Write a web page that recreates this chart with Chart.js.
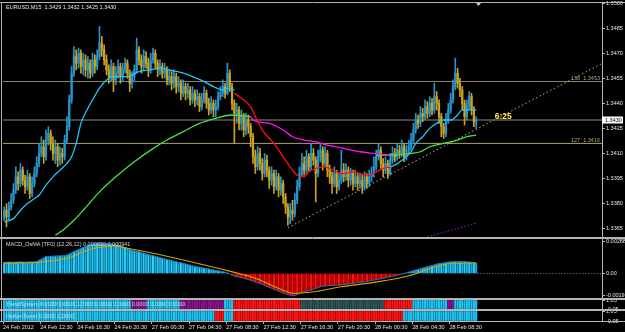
<!DOCTYPE html>
<html>
<head>
<meta charset="utf-8">
<script src="https://cdn.jsdelivr.net/npm/chart.js@4.4.1/dist/chart.umd.min.js"></script>
<style>
  html, body { margin: 0; padding: 0; background: #000; }
  #wrap { position: relative; width: 625px; height: 332px; overflow: hidden; background: #000; }
  canvas { position: absolute; left: 0; }
</style>
</head>
<body>
<div id="wrap">
  <canvas id="main" width="625" height="238" style="top:0"></canvas>
  <canvas id="macd" width="625" height="61" style="top:238px"></canvas>
  <canvas id="trend" width="625" height="11" style="top:299px"></canvas>
  <canvas id="heiken" width="625" height="22" style="top:310px"></canvas>
</div>
<script>
// EURUSD M15, bar 0 = 24 Feb 2012 08:30
const timeLabels = ["24 Feb 2012", "24 Feb 12:30", "24 Feb 16:30", "24 Feb 20:30", "27 Feb 00:30", "27 Feb 04:30",
  "27 Feb 08:30", "27 Feb 12:30", "27 Feb 16:30", "27 Feb 20:30", "28 Feb 00:30", "28 Feb 04:30", "28 Feb 08:30"];
const timeLabelBars = [0, 16, 32, 48, 64, 80, 96, 112, 128, 144, 160, 176, 192];
const priceTicks = [1.3365, 1.3380, 1.3395, 1.3410, 1.3425, 1.3440, 1.3455, 1.3470, 1.3485, 1.3500];

const firstOpen = 1.3372;
const closes = [
  1.3376,1.3372,1.3378,1.3382,1.3388,1.3396,1.3392,1.3400,1.3394,1.3390,
  1.3396,1.3386,1.3392,1.3398,1.3404,1.3410,1.3414,1.3408,1.3418,1.3422,
  1.3416,1.3410,1.3414,1.3406,1.3410,1.3408,1.3418,1.3426,1.3442,1.3458,
  1.3468,1.3464,1.3470,1.3462,1.3466,1.3460,1.3464,1.3458,1.3466,1.3462,
  1.3468,1.3476,1.3472,1.3466,1.3460,1.3456,1.3462,1.3454,1.3458,1.3462,
  1.3456,1.3460,1.3464,1.3458,1.3452,1.3456,1.3460,1.3472,1.3466,1.3462,
  1.3468,1.3464,1.3460,1.3466,1.3470,1.3464,1.3460,1.3462,1.3458,1.3460,
  1.3454,1.3456,1.3452,1.3456,1.3450,1.3452,1.3446,1.3450,1.3446,1.3448,
  1.3442,1.3446,1.3442,1.3444,1.3438,1.3442,1.3446,1.3440,1.3436,1.3440,
  1.3436,1.3438,1.3444,1.3446,1.3450,1.3446,1.3458,1.3450,1.3440,1.3434,
  1.3436,1.3428,1.3432,1.3424,1.3430,1.3426,1.3420,1.3408,1.3402,1.3410,
  1.3404,1.3398,1.3406,1.3400,1.3394,1.3398,1.3390,1.3396,1.3388,1.3392,
  1.3384,1.3378,1.3372,1.3376,1.3374,1.3382,1.3390,1.3398,1.3404,1.3400,
  1.3408,1.3402,1.3410,1.3406,1.3398,1.3408,1.3412,1.3404,1.3410,1.3400,
  1.3396,1.3392,1.3398,1.3390,1.3394,1.3400,1.3396,1.3400,1.3394,1.3398,
  1.3392,1.3396,1.3392,1.3394,1.3390,1.3396,1.3392,1.3396,1.3398,1.3402,
  1.3408,1.3412,1.3404,1.3400,1.3404,1.3398,1.3406,1.3410,1.3408,1.3412,
  1.3410,1.3414,1.3408,1.3412,1.3414,1.3418,1.3424,1.3430,1.3428,1.3434,
  1.3432,1.3438,1.3434,1.3440,1.3436,1.3444,1.3440,1.3432,1.3426,1.3422,
  1.3430,1.3436,1.3442,1.3450,1.3458,1.3452,1.3448,1.3440,1.3432,1.3438,
  1.3444,1.3436,1.3429,1.3430
];
const highs = [
  1.3378,1.3380,1.3381,1.3386,1.3392,1.3402,1.3399,1.3404,1.3402,1.3397,
  1.3400,1.3398,1.3396,1.3402,1.3408,1.3416,1.3420,1.3418,1.3424,1.3426,
  1.3424,1.3420,1.3418,1.3416,1.3414,1.3413,1.3421,1.3432,1.3445,1.3462,
  1.3474,1.3472,1.3473,1.3472,1.3470,1.3469,1.3468,1.3466,1.3470,1.3469,
  1.3472,1.3486,1.3480,1.3475,1.3469,1.3463,1.3466,1.3464,1.3462,1.3466,
  1.3464,1.3464,1.3467,1.3466,1.3460,1.3459,1.3463,1.3479,1.3474,1.3469,
  1.3472,1.3471,1.3467,1.3470,1.3473,1.3472,1.3466,1.3466,1.3464,1.3464,
  1.3462,1.3460,1.3459,1.3460,1.3458,1.3456,1.3454,1.3454,1.3452,1.3452,
  1.3450,1.3450,1.3448,1.3448,1.3446,1.3446,1.3450,1.3448,1.3443,1.3444,
  1.3442,1.3442,1.3447,1.3450,1.3454,1.3452,1.3464,1.3460,1.3452,1.3442,
  1.3440,1.3438,1.3436,1.3434,1.3434,1.3433,1.3428,1.3422,1.3412,1.3414,
  1.3413,1.3407,1.3410,1.3409,1.3402,1.3402,1.3400,1.3400,1.3398,1.3396,
  1.3394,1.3386,1.3380,1.3380,1.3382,1.3386,1.3394,1.3402,1.3410,1.3408,
  1.3412,1.3410,1.3416,1.3413,1.3408,1.3412,1.3416,1.3414,1.3414,1.3412,
  1.3403,1.3399,1.3402,1.3400,1.3398,1.3412,1.3404,1.3404,1.3402,1.3401,
  1.3400,1.3400,1.3398,1.3398,1.3397,1.3399,1.3398,1.3400,1.3402,1.3408,
  1.3412,1.3416,1.3414,1.3407,1.3408,1.3406,1.3410,1.3414,1.3413,1.3416,
  1.3415,1.3418,1.3416,1.3415,1.3418,1.3422,1.3428,1.3434,1.3433,1.3438,
  1.3437,1.3442,1.3441,1.3444,1.3443,1.3452,1.3447,1.3442,1.3434,1.3428,
  1.3434,1.3440,1.3446,1.3454,1.3467,1.3461,1.3455,1.3450,1.3442,1.3442,
  1.3447,1.3446,1.3438,1.3432
];
const lows = [
  1.3370,1.3366,1.3370,1.3376,1.3380,1.3386,1.3388,1.3390,1.3391,1.3386,
  1.3388,1.3383,1.3384,1.3390,1.3396,1.3402,1.3408,1.3404,1.3406,1.3415,
  1.3412,1.3406,1.3404,1.3402,1.3403,1.3404,1.3406,1.3416,1.3424,1.3440,
  1.3456,1.3460,1.3461,1.3458,1.3457,1.3456,1.3455,1.3455,1.3456,1.3458,
  1.3460,1.3466,1.3468,1.3463,1.3457,1.3452,1.3453,1.3447,1.3451,1.3455,
  1.3452,1.3453,1.3458,1.3455,1.3447,1.3449,1.3453,1.3458,1.3463,1.3458,
  1.3460,1.3461,1.3456,1.3458,1.3464,1.3461,1.3456,1.3457,1.3455,1.3455,
  1.3451,1.3451,1.3448,1.3449,1.3446,1.3447,1.3442,1.3444,1.3442,1.3443,
  1.3439,1.3440,1.3438,1.3439,1.3435,1.3436,1.3440,1.3437,1.3433,1.3434,
  1.3432,1.3432,1.3436,1.3442,1.3444,1.3443,1.3445,1.3447,1.3436,1.3416,
  1.3428,1.3424,1.3424,1.3420,1.3421,1.3422,1.3414,1.3404,1.3398,1.3400,
  1.3400,1.3394,1.3396,1.3396,1.3389,1.3391,1.3386,1.3388,1.3384,1.3385,
  1.3380,1.3374,1.3367,1.3368,1.3370,1.3372,1.3380,1.3388,1.3396,1.3397,
  1.3398,1.3399,1.3400,1.3403,1.3381,1.3396,1.3405,1.3400,1.3402,1.3396,
  1.3392,1.3386,1.3390,1.3386,1.3388,1.3392,1.3393,1.3394,1.3390,1.3391,
  1.3388,1.3390,1.3388,1.3389,1.3386,1.3388,1.3389,1.3390,1.3393,1.3396,
  1.3400,1.3406,1.3401,1.3396,1.3398,1.3395,1.3397,1.3404,1.3405,1.3406,
  1.3407,1.3408,1.3405,1.3406,1.3410,1.3412,1.3416,1.3422,1.3425,1.3426,
  1.3429,1.3430,1.3431,1.3432,1.3433,1.3434,1.3436,1.3428,1.3420,1.3419,
  1.3420,1.3428,1.3434,1.3440,1.3448,1.3449,1.3444,1.3436,1.3427,1.3430,
  1.3436,1.3433,1.3426,1.3425
];

// moving averages as [bar, price]
const fastMaUp = [[0,1.3369],[4,1.3371],[7,1.3376],[10,1.3380],[13,1.3383],[15,1.3385],[18,1.3391],[21,1.3396],
  [24,1.3400],[27,1.3404],[29,1.3408],[31,1.3416],[33,1.3428],[36,1.3437],[38,1.3442],[41,1.3449],[44,1.3454],
  [47,1.3456],[53,1.3456],[58,1.3459],[63,1.3460],[67,1.3461],[71,1.3460],[77,1.3458],[81,1.3456],[86,1.3453],
  [90,1.3450],[94,1.3448],[96,1.3449],[99,1.3448]];
const fastMaDown = [[99,1.3446],[101,1.3444],[106,1.3438],[108,1.3432],[111,1.3424],[116,1.3416],[120,1.3408],
  [123,1.3402],[126,1.3397],[129,1.3396],[131,1.3399],[134,1.3401],[138,1.3402],[140,1.3401],[143,1.3399],
  [146,1.3398],[150,1.3399],[153,1.3398],[157,1.3397],[160,1.3399],[163,1.3401],[166,1.3402]];
const fastMaUp2 = [[166,1.3402],[168,1.3403],[172,1.3407],[175,1.3411],[177,1.3416],[180,1.3420],[183,1.3425],
  [186,1.3428],[189,1.3430],[192,1.3430],[195,1.3433],[197,1.3436],[200,1.3436],[203,1.3436]];
const slowMaUp = [[22,1.3361],[26,1.3365],[30,1.3370],[34,1.3376],[41,1.3387],[48,1.3396],[55,1.3404],[63,1.3412],
  [70,1.3418],[77,1.3423],[84,1.3428],[91,1.3431],[98,1.3433],[106,1.3432]];
const slowMaDown = [[106,1.3432],[107,1.3430],[114,1.3428],[120,1.3424],[124,1.3420],[129,1.3418],[134,1.3417],
  [139,1.3415],[146,1.3413],[153,1.3411],[159,1.3410],[166,1.3409]];
const slowMaUp2 = [[160,1.3409],[167,1.3409],[175,1.3410],[179,1.3411],[183,1.3414],[189,1.3416],[195,1.3418],
  [199,1.3420],[203,1.3421]];

const trendLine = [[122, 1.33655], [257.1, 1.34638]];
const purpleLine = [[182, 1.33600], [203.4, 1.33685]];
const levelPrices = [1.3453, 1.3416];
const levelNames = ["138", "127"];
const lastPrice = 1.3430;
const timer = "6:25";

const macdMain = [
  0.00100,0.00101,0.00102,0.00101,0.00100,0.00101,0.00102,0.00103,0.00102,0.00101,0.00102,0.00103,0.00102,0.00104,0.00106,
  0.00120,0.00128,0.00140,0.00151,0.00152,0.00154,0.00155,0.00156,0.00157,0.00158,0.00158,0.00160,
  0.00165,0.00175,0.00185,0.00196,0.00206,0.00216,0.00226,0.00234,0.00242,0.00250,0.00257,0.00263,0.00265,0.00266,
  0.00268,0.00268,0.00267,0.00267,0.00266,0.00264,0.00262,
  0.00257,0.00252,0.00248,0.00240,0.00233,0.00226,0.00218,0.00208,0.00203,0.00198,0.00194,0.00188,0.00182,0.00176,
  0.00170,0.00165,0.00160,0.00155,0.00148,0.00142,0.00137,0.00132,0.00126,0.00121,
  0.00116,0.00110,0.00105,0.00100,0.00096,0.00092,0.00086,0.00080,0.00074,0.00069,0.00064,0.00060,0.00056,0.00052,
  0.00048,0.00044,0.00040,0.00036,0.00032,0.00028,0.00024,0.00020,0.00016,0.00010,0.00003,
  -0.00005,-0.00014,-0.00024,-0.00029,-0.00032,-0.00036,-0.00042,-0.00048,-0.00054,-0.00060,-0.00068,-0.00075,-0.00082,
  -0.00088,-0.00097,-0.00106,-0.00115,-0.00124,-0.00133,-0.00142,-0.00150,-0.00158,-0.00166,-0.00174,-0.00181,-0.00187,
  -0.00194,-0.00200,
  -0.00198,-0.00190,-0.00178,-0.00171,-0.00165,-0.00159,-0.00154,-0.00149,-0.00141,-0.00133,-0.00126,-0.00119,-0.00115,
  -0.00112,-0.00110,-0.00108,-0.00107,-0.00106,-0.00105,-0.00104,-0.00102,
  -0.00099,-0.00097,-0.00094,-0.00091,-0.00088,-0.00085,-0.00082,-0.00079,-0.00076,-0.00073,-0.00070,-0.00066,-0.00062,
  -0.00059,-0.00055,-0.00050,-0.00047,-0.00044,-0.00038,-0.00033,-0.00029,-0.00025,-0.00020,-0.00015,-0.00010,-0.00005,0.00000,
  0.00006,0.00012,0.00018,0.00025,0.00031,0.00037,0.00043,0.00049,0.00055,0.00061,0.00066,0.00072,0.00078,0.00084,
  0.00088,0.00092,0.00096,0.00099,0.00102,0.00104,0.00106,0.00107,0.00107,0.00106,0.00105,0.00105,0.00104,0.00102,
  0.00100,0.00096,0.00092
];
const macdSignal = [[0,0.00092],[17,0.00106],[27,0.00137],[31,0.00167],[36,0.00212],[43,0.00241],[47,0.00248],
  [53,0.00227],[63,0.00187],[77,0.00122],[92,0.00047],[99,0.00010],[106,-0.00029],[110,-0.00059],[119,-0.00142],
  [125,-0.00178],[135,-0.00158],[145,-0.00119],[159,-0.00080],[174,-0.00020],[185,0.00056],[193,0.00092],[203,0.00094]];
const macdTicks = [-0.00199, 0, 0.002884];
const macdTickLabels = ["-0.00199", "0.00", "0.002884"];

// [firstBar, lastBar, state]
const trendRuns = [[0,54,"up"],[55,61,"range"],[62,75,"up"],[76,94,"range"],[95,98,"up"],[99,127,"down"],
  [128,163,"weak"],[164,175,"down"],[176,190,"up"],[191,193,"range"],[194,203,"up"]];
const heikenRuns = [[0,90,"up"],[91,94,"down"],[95,98,"up"],[99,171,"down"],[172,203,"up"]];

const stateColors = { up: "#1cc4f4", down: "#ff1414", range: "#86168e", weak: "#2f5656" };
const bullColor = "#2894cc", bearColor = "#cda21c";
const frameColor = "#b4b4b4";
const FONT = '"Liberation Sans", Arial, sans-serif';

Chart.defaults.font.family = FONT;
Chart.defaults.font.size = 5.5;
Chart.defaults.color = "#e6e6e6";
Chart.defaults.animation = false;

const nBars = closes.length;
const opens = closes.map((c, i) => i === 0 ? firstOpen : closes[i - 1]);
const candleColors = closes.map((c, i) => c >= opens[i] ? bullColor : bearColor);

function pts(list) { return list.map(p => ({ x: p[0], y: p[1] })); }
function statesFromRuns(runs) {
  const out = [];
  runs.forEach(r => { for (let i = r[0]; i <= r[1]; i++) out[i] = r[2]; });
  return out;
}

function barAxis(showLabels) {
  const ax = {
    type: "linear", min: -0.5, max: 257.1, offset: false, display: showLabels,
    grid: { offset: false, drawOnChartArea: false, drawTicks: true, tickLength: 3, tickColor: frameColor },
    border: { display: false }
  };
  if (showLabels) {
    ax.position = "bottom";
    ax.afterBuildTicks = s => { s.ticks = timeLabelBars.map(b => ({ value: b - 0.5 })); };
    ax.afterFit = s => { s.height = 11; s.paddingLeft = 0; s.paddingRight = 0; };
    ax.ticks = { align: "start", maxRotation: 0, autoSkip: false, padding: 0, color: "#e6e6e6",
      callback: (v, i) => timeLabels[i] };
  }
  return ax;
}

function rightAxis(min, max, ticks, fmt) {
  return {
    type: "linear", position: "right", min: min, max: max,
    afterBuildTicks: s => { s.ticks = ticks.map(v => ({ value: v })); },
    afterFit: s => { s.width = 23; s.paddingTop = 0; s.paddingBottom = 0; },
    grid: { drawOnChartArea: false, drawTicks: true, tickLength: 3, tickColor: frameColor },
    border: { display: true, color: frameColor },
    ticks: { color: "#e6e6e6", padding: 1, autoSkip: false, callback: fmt }
  };
}

const frame = {
  id: "frame",
  afterDraw(chart) {
    const { ctx, chartArea: a } = chart;
    ctx.save();
    ctx.strokeStyle = frameColor;
    ctx.lineWidth = 1;
    ctx.beginPath();
    ctx.moveTo(0, a.top - 0.5); ctx.lineTo(625, a.top - 0.5);
    ctx.moveTo(0, a.bottom + 0.5); ctx.lineTo(625, a.bottom + 0.5);
    ctx.moveTo(1.5, a.top - 0.5); ctx.lineTo(1.5, a.bottom + 0.5);
    ctx.stroke();
    ctx.restore();
  }
};

function paneText(text) {
  return {
    id: "paneText",
    afterDraw(chart) {
      const { ctx, chartArea: a } = chart;
      ctx.save();
      ctx.font = "5.5px " + FONT;
      ctx.fillStyle = "#d8d8d8";
      ctx.textBaseline = "middle";
      ctx.fillText(text, 6, Math.min(a.top + 5, (a.top + a.bottom) / 2));
      ctx.restore();
    }
  };
}

function line(data, color, extra) {
  return Object.assign({ type: "line", data: pts(data), borderColor: color, borderWidth: 1.3,
    pointRadius: 0, cubicInterpolationMode: "monotone", order: 0 }, extra || {});
}

// ---- price pane
const mainDecor = {
  id: "mainDecor",
  afterDraw(chart) {
    const { ctx, chartArea: a, scales: { x, y } } = chart;
    ctx.save();
    ctx.font = "5.5px " + FONT;
    ctx.fillStyle = "#e6e6e6";
    ctx.textBaseline = "middle";
    ctx.fillText("EURUSD,M15  1.3429 1.3432 1.3425 1.3430", 6, 7.5);

    ctx.fillStyle = "#aaa27a";
    ctx.textAlign = "right";
    ctx.textBaseline = "bottom";
    levelPrices.forEach((p, k) => {
      ctx.fillText(levelNames[k] + "  " + p.toFixed(4), a.right - 2, y.getPixelForValue(p) - 0.5);
    });

    ctx.textAlign = "left";
    ctx.textBaseline = "middle";
    ctx.font = "bold 8.5px " + FONT;
    ctx.fillStyle = "#ffe94a";
    ctx.fillText(timer, x.getPixelForValue(211), y.getPixelForValue(1.3432));

    const py = y.getPixelForValue(lastPrice);
    ctx.fillStyle = "#ffffff";
    ctx.fillRect(a.right, py - 3.5, 21, 7);
    ctx.fillStyle = "#000000";
    ctx.font = "5.5px " + FONT;
    ctx.fillText(lastPrice.toFixed(4), a.right + 3, py + 0.3);

    const sx = x.getPixelForValue(nBars);
    ctx.fillStyle = "#c8c8c8";
    ctx.beginPath();
    ctx.moveTo(sx - 2.5, a.top); ctx.lineTo(sx + 2.5, a.top); ctx.lineTo(sx, a.top + 3);
    ctx.closePath();
    ctx.fill();
    ctx.restore();
  }
};

new Chart(document.getElementById("main"), {
  type: "bar",
  data: {
    datasets: [
      line(fastMaUp, "#20c4ff"),
      line(fastMaDown, "#ff1010"),
      line(fastMaUp2, "#20c4ff"),
      line(slowMaDown, "#ff10ff"),
      line(slowMaUp, "#44e640"),
      line(slowMaUp2, "#44e640"),
      line(trendLine, "#c8a8a8", { borderWidth: 1, borderDash: [1.5, 2.5], cubicInterpolationMode: "default", tension: 0 }),
      line(purpleLine, "#a020e0", { borderWidth: 1, borderDash: [1.5, 2], cubicInterpolationMode: "default", tension: 0 }),
      {
        type: "bar", order: 2, grouped: false, barThickness: 1.6, minBarLength: 0.8,
        data: closes.map((c, i) => ({ x: i, y: [Math.min(opens[i], c), Math.max(opens[i], c)] })),
        backgroundColor: candleColors
      },
      {
        type: "bar", order: 3, grouped: false, barThickness: 1,
        data: closes.map((c, i) => ({ x: i, y: [lows[i], highs[i]] })),
        backgroundColor: candleColors
      },
      line([[-0.5, levelPrices[0]], [257.1, levelPrices[0]]], "#8a846a", { borderWidth: 1, order: 5 }),
      line([[-0.5, levelPrices[1]], [257.1, levelPrices[1]]], "#b0a270", { borderWidth: 1, order: 5 }),
      line([[-0.5, lastPrice], [257.1, lastPrice]], "#8a8a8a", { borderWidth: 1, order: 5 })
    ]
  },
  options: {
    responsive: false, events: [],
    layout: { padding: { left: 3, top: 3, right: 0, bottom: 1 } },
    plugins: { legend: { display: false }, tooltip: { enabled: false } },
    scales: {
      x: barAxis(false),
      y: rightAxis(1.3360, 1.3500, priceTicks, v => v.toFixed(4))
    }
  },
  plugins: [frame, mainDecor]
});

// ---- MACD pane
new Chart(document.getElementById("macd"), {
  type: "bar",
  data: {
    datasets: [
      line(macdSignal, "#d8a400", { borderWidth: 1.1 }),
      {
        type: "line", order: 1, data: macdMain.map((v, i) => ({ x: i, y: v })),
        borderColor: "#1c6cc0", borderWidth: 1, pointRadius: 0
      },
      {
        type: "bar", order: 2, grouped: false, barThickness: 1.4,
        data: macdMain.map((v, i) => ({ x: i, y: v })),
        backgroundColor: macdMain.map((v, i) => v >= 0 ? (i % 2 ? "#14acdc" : "#2cd0ff") : (i % 2 ? "#c80000" : "#ff1010"))
      },
      line([[nBars - 0.5, 0], [257.1, 0]], "#8c8c8c", { borderWidth: 1, borderDash: [1, 2] })
    ]
  },
  options: {
    responsive: false, events: [],
    layout: { padding: { left: 3, top: 1, right: 0, bottom: 1 } },
    plugins: { legend: { display: false }, tooltip: { enabled: false } },
    scales: {
      x: barAxis(false),
      y: rightAxis(-0.0022, 0.0031, macdTicks, (v, i) => macdTickLabels[i])
    }
  },
  plugins: [frame, paneText("MACD_OsMA [TF0] (12,26,12) 0.000920 0.000941")]
});

// ---- state stripes
function stripeChart(id, runs, title, showTime) {
  const states = statesFromRuns(runs);
  new Chart(document.getElementById(id), {
    type: "bar",
    data: {
      datasets: [{
        type: "bar", grouped: false, barThickness: 1.5,
        data: states.map((s, i) => ({ x: i, y: [0, 1] })),
        backgroundColor: states.map(s => stateColors[s])
      }]
    },
    options: {
      responsive: false, events: [],
      layout: { padding: { left: 3, top: 1, right: 0, bottom: showTime ? 0 : 1 } },
      plugins: { legend: { display: false }, tooltip: { enabled: false } },
      scales: {
        x: barAxis(showTime),
        y: rightAxis(-0.05, 1.05, [-0.05, 1.05], v => v.toFixed(2))
      }
    },
    plugins: [frame, paneText(title)]
  });
}
stripeChart("trend", trendRuns, "TrendSystem 0.0000 0.0000 1.0000 0.0000 1.0000 0.0000 0.0000 0.0000", false);
stripeChart("heiken", heikenRuns, "HeikenTrend 0.0000 1.0000", true);
</script>
</body>
</html>
